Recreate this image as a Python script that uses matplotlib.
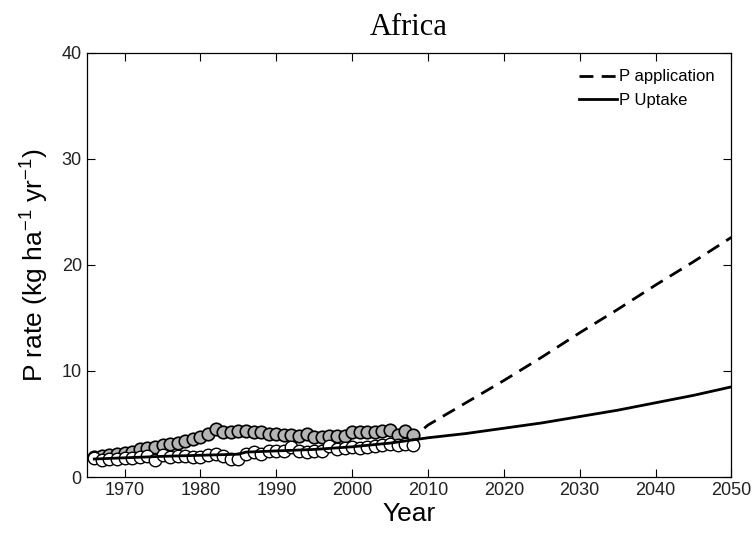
import numpy as np
import matplotlib.pyplot as plt

plt.rcParams['font.family'] = ['Liberation Sans', 'DejaVu Sans']
plt.rcParams['mathtext.fontset'] = 'custom'
plt.rcParams['mathtext.rm'] = 'Liberation Sans'
plt.rcParams['mathtext.it'] = 'Liberation Sans'

# observed data 1966-2008
years = np.arange(1966, 2009)
p_app_obs = [1.9, 2.0, 2.1, 2.2, 2.3, 2.4, 2.6, 2.7, 2.8, 3.0,
             3.1, 3.2, 3.4, 3.6, 3.8, 4.1, 4.5, 4.2, 4.2, 4.3,
             4.3, 4.2, 4.2, 4.1, 4.1, 4.0, 4.0, 3.9, 4.1, 3.8,
             3.8, 3.9, 3.9, 3.9, 4.2, 4.2, 4.2, 4.2, 4.3, 4.4,
             4.0, 4.3, 4.0]
p_upt_obs = [1.8, 1.6, 1.7, 1.7, 1.8, 1.8, 1.9, 2.0, 1.6, 2.1,
             1.9, 2.0, 2.0, 1.9, 1.9, 2.1, 2.2, 2.0, 1.7, 1.7,
             2.2, 2.4, 2.2, 2.5, 2.5, 2.5, 2.8, 2.5, 2.4, 2.5,
             2.5, 2.9, 2.6, 2.7, 2.8, 2.7, 2.8, 2.9, 3.0, 3.1,
             3.0, 3.1, 3.0]

# uptake trend line (historic + projection)
upt_years = [1966, 1975, 1985, 1986, 1995, 2000, 2005, 2008, 2010,
             2015, 2020, 2025, 2030, 2035, 2040, 2045, 2050]
upt_line = [1.7, 1.95, 2.15, 2.35, 2.6, 2.85, 3.2, 3.5, 3.7,
            4.1, 4.6, 5.1, 5.7, 6.3, 7.0, 7.7, 8.5]

# application projection
app_years = [2009.5, 2010, 2015, 2020, 2025, 2030, 2035, 2040, 2045, 2050]
app_line = [4.6, 4.9, 7.0, 9.1, 11.3, 13.6, 15.8, 18.1, 20.3, 22.6]

fig = plt.figure(figsize=(7.54, 5.39), dpi=100)
ax = fig.add_axes([0.115, 0.115, 0.855, 0.787])

ax.plot(years, p_app_obs, 'o', ms=9, mfc='#b4b4b4', mec='k', mew=1.2, zorder=2)
ax.plot(years, p_upt_obs, 'o', ms=9, mfc='white', mec='k', mew=1.0, zorder=2)
ax.plot(app_years, app_line, 'k--', lw=2, dashes=(5, 3), label='P application', zorder=3)
ax.plot(upt_years, upt_line, 'k-', lw=2, label='P Uptake', zorder=3)

ax.set_xlim(1965, 2050)
ax.set_ylim(0, 40)
ax.set_xticks(np.arange(1970, 2051, 10))
ax.set_yticks([0, 10, 20, 30, 40])
ax.tick_params(direction='in', top=True, right=True, labelsize=13, length=6,
               colors='k', labelcolor='#222222')
for s in ax.spines.values():
    s.set_linewidth(0.9)

ax.set_xlabel('Year', fontsize=19, labelpad=2)
ax.set_ylabel('P rate (kg ha$^{-1}$ yr$^{-1}$)', fontsize=19, labelpad=8)
ax.set_title('Africa', fontsize=22, family='Liberation Serif', pad=13)

ax.legend(loc='upper right', frameon=False, fontsize=12, handlelength=2.3,
          handletextpad=0.1, borderaxespad=0.6)

fig.savefig('out.png', dpi=100)
